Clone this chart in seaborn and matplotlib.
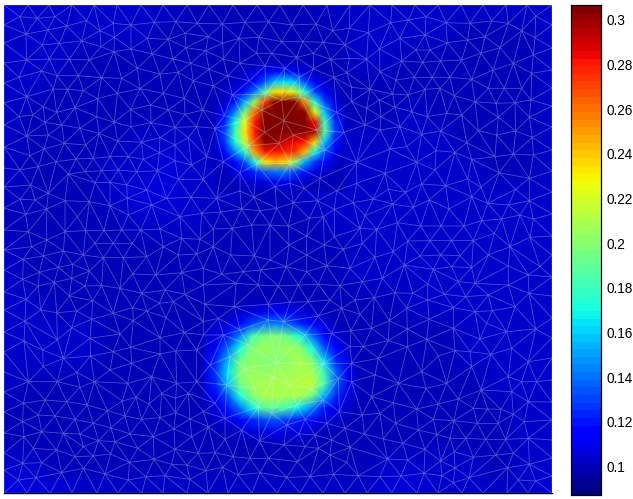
import numpy as np
import matplotlib
matplotlib.use("Agg")
import matplotlib.pyplot as plt
import matplotlib.tri as mtri
import seaborn as sns

# -----------------------------
# field values, in thousandths
# -----------------------------
background = [
    [105,104,103,103,102,102,102,101,101,100,100,101,102,102,102,102,102,103,103,104,104],
    [104,103,102,102,102,102,101,100,101,101,100,100,101,102,102,102,102,101,101,101,103],
    [103,102,102,101,101,101,100,100,101,101,100,100,101,102,102,101,101,100,99,100,102],
    [103,102,101,100,100,101,101,101,101,101,101,101,101,101,101,101,101,100,98,99,102],
    [103,101,100,99,100,101,101,101,101,101,101,101,101,101,101,102,101,100,98,100,102],
    [102,100,98,98,100,102,102,102,101,101,101,101,102,102,103,103,102,100,99,100,102],
    [102,101,100,100,102,104,105,103,102,101,101,102,103,103,104,104,103,102,101,101,103],
    [102,101,100,101,102,105,105,103,102,100,101,102,103,103,104,104,104,103,102,102,103],
    [101,99,99,100,101,102,103,102,100,100,100,100,102,103,104,104,104,103,102,103,104],
    [102,100,100,100,100,100,101,101,100,99,99,99,101,102,103,104,103,103,103,103,104],
    [103,101,101,101,100,100,101,100,99,98,99,99,100,102,103,103,103,103,103,103,104],
    [103,102,101,101,101,101,101,100,99,99,100,100,100,101,101,102,102,102,103,103,104],
    [103,102,102,102,101,100,99,99,101,101,101,101,101,100,99,100,101,102,103,103,104],
    [103,102,102,102,101,100,99,101,101,101,101,101,101,100,99,99,101,102,102,103,104],
    [102,101,101,101,101,100,100,101,101,101,101,101,101,101,100,100,101,101,102,103,104],
    [100,99,100,101,101,100,100,101,101,101,101,101,101,101,101,101,101,101,101,102,104],
    [101,100,100,101,101,100,100,100,101,101,101,101,101,101,101,101,101,101,101,102,104],
    [104,102,101,101,101,100,99,100,100,101,101,101,101,101,102,103,103,102,101,102,104],
    [109,106,105,104,104,103,102,102,104,104,103,102,103,104,105,105,104,103,103,104,106],
]

# top spot, 14 x 14 samples
spot_top = [
    [100,100,100,100,100,100,100,100,100,100,100,100,100,100],
    [100,100,100,102,105,110,118,120,110,105,101,100,100,100],
    [100,100,102,105,115,135,158,165,158,132,112,103,100,100],
    [100,102,106,120,145,185,232,238,218,172,132,110,102,100],
    [100,104,120,155,205,270,305,310,305,255,175,130,108,101],
    [102,112,145,195,260,305,310,310,310,300,225,158,118,103],
    [106,125,168,222,282,308,310,310,310,308,285,180,128,105],
    [108,132,178,232,280,308,310,310,310,308,295,190,132,106],
    [106,128,170,215,272,305,300,292,285,280,235,158,120,104],
    [102,116,145,175,250,280,280,278,275,245,172,135,110,102],
    [100,105,118,135,172,230,245,235,205,155,128,112,103,100],
    [100,101,105,112,125,135,142,142,132,120,108,102,100,100],
    [100,100,100,102,105,108,110,110,107,103,101,100,100,100],
    [100,100,100,100,100,100,100,100,100,100,100,100,100,100],
]

# bottom spot, 14 x 13 samples
spot_bottom = [
    [100,100,100,100,100,100,100,100,100,100,100,100,100,100],
    [100,100,101,103,107,110,112,110,107,103,101,100,100,100],
    [100,102,106,116,130,142,145,138,125,113,105,101,100,100],
    [102,108,120,145,180,197,200,193,172,140,118,106,101,100],
    [104,115,138,172,198,204,202,206,202,172,135,112,103,100],
    [107,122,155,192,202,198,198,202,208,198,162,124,106,100],
    [108,126,165,198,204,202,204,207,208,208,182,138,110,101],
    [107,122,157,195,206,208,208,210,213,217,184,138,110,101],
    [104,115,135,172,200,208,208,210,210,195,155,122,106,100],
    [101,106,120,140,168,188,188,180,165,143,120,109,102,100],
    [100,102,107,114,122,130,134,128,120,113,106,102,100,100],
    [100,100,101,103,105,108,110,108,105,103,101,100,100,100],
    [100,100,100,100,100,100,100,100,100,100,100,100,100,100],
]

cbar_ticks = [0.1, 0.12, 0.14, 0.16, 0.18, 0.2, 0.22, 0.24, 0.26, 0.28, 0.3]
cbar_labels = ["0.1", "0.12", "0.14", "0.16", "0.18", "0.2", "0.22", "0.24", "0.26", "0.28", "0.3"]
vmin, vmax = 0.0875, 0.3067

# -----------------------------
# mesh nodes, pixel positions on the picture
# -----------------------------
edge_top = [4,28,49,72,94,117,141,163,187,209,233,257,280,303,327,350,370,392,415,438,461,483,506,527,552]
edge_bottom = [4,27,50,72,97,118,142,163,187,208,228,252,277,300,323,345,367,392,417,438,462,483,507,528,552]
edge_left = [25,43,63,83,103,125,147,168,187,208,230,250,270,292,310,332,352,372,392,412,433,453,470]
edge_right = [25,48,70,88,106,127,150,171,192,214,236,255,277,296,318,338,358,380,402,420,440,458,476]

# (crop left, crop top, nodes in 3x crop coordinates)
crop_nw = (0, 0, [(60,50),(112,55),(165,50),(78,102),(143,90),(200,78),(260,62),(340,70),(393,75),(463,67),(527,65),(592,70),
    (127,135),(178,130),(245,123),(300,92),(343,112),(442,115),(505,118),(555,100),
    (80,180),(148,177),(208,178),(268,180),(303,140),(342,155),(393,147),(457,162),(519,177),(558,143),(572,190),
    (125,213),(171,227),(235,227),(305,233),(356,190),(412,205),(480,222),(535,217),(580,243),
    (57,232),(127,250),(160,267),(203,268),(250,272),(365,235),(420,266),(490,280),(553,295),
    (80,290),(133,285),(170,300),(225,323),(293,296),(352,280),(452,315),(392,328),(505,330),
    (130,320),(58,350),(98,345),(170,337),(135,367),(290,350),(343,367),(393,380),(453,368),(525,382),(555,343),
    (185,375),(240,385),(297,400),(353,423),(425,427),(480,413),(525,435),(565,413),
    (80,408),(145,405),(193,430),(257,435),(132,447)])
crop_n = (190, 0, [(22,70),(97,72),(165,67),(235,65),(305,75),(378,72),(428,92),(478,85),(535,98),(283,50),
    (55,110),(18,115),(98,130),(147,115),(207,112),(275,125),(338,125),(400,127),(465,135),(530,130),
    (47,152),(100,177),(150,190),(200,160),(245,160),(320,172),(370,160),(422,178),(478,175),(530,178),
    (57,208),(113,228),(178,242),(225,198),(285,205),(370,207),(328,232),(432,232),(470,218),(520,210),(485,262),
    (10,242),(70,258),(127,285),(235,228),(280,225),(400,252),(450,265),(540,268),
    (38,330),(103,347),(20,380),(75,385),(485,305),(530,325),(440,337),(525,375),(462,397),
    (228,282),(275,300),(330,290),(215,330),(282,362),(225,397),(165,362),(380,390),(268,430),(175,437),(340,315),
    (310,405),(430,410),(405,450),(500,487),(200,492),(300,490),(100,485),(50,470),(140,445),(15,460)])
crop_ne = (370, 0, [(22,45),(62,68),(17,72),(115,60),(168,50),(228,68),(300,70),(365,63),(415,70),(455,92),(497,48),
    (90,115),(165,105),(232,128),(293,120),(345,110),(388,98),(495,113),
    (28,147),(138,150),(180,150),(333,160),(390,143),(448,130),(490,165),
    (95,183),(158,187),(212,183),(275,180),(370,210),(430,190),(485,220),(530,210),
    (30,215),(78,240),(133,232),(187,232),(240,232),(305,238),(430,228),(500,240),
    (30,260),(68,282),(115,285),(165,268),(210,265),(253,287),(355,265),(403,265),(455,265),(510,265),
    (28,300),(75,322),(125,335),(197,300),(315,305),(378,310),(435,308),(483,300),
    (33,350),(90,380),(172,350),(230,340),(275,345),(385,352),(478,352),
    (30,390),(155,403),(212,393),(268,380),(325,392),(380,405),(437,393),(487,412),
    (110,440),(60,447),(150,440),(198,452),(255,457),(290,428),(375,470),(430,463),(490,465),(140,487),(305,478)])
crop_w = (0, 150, [(60,60),(90,17),(115,50),(168,35),(228,27),(280,25),(330,20),(385,20),(430,28),(478,8),(525,32),(575,45),(622,22),(720,68),
    (92,105),(145,130),(205,72),(255,65),(305,62),(355,60),(410,65),(472,62),(535,88),(610,88),(665,62),(720,123),(825,110),
    (60,148),(105,150),(195,152),(285,98),(330,97),(380,105),(440,120),(455,165),(500,145),(573,142),(650,145),(685,145),(762,142),
    (77,193),(140,177),(232,200),(268,155),(303,127),(382,145),(425,160),(330,167),(385,195),(478,190),(540,200),(605,190),(662,186),(725,177),(780,182),(830,175),
    (85,245),(140,270),(195,245),(257,242),(312,242),(365,240),(422,240),(480,237),(545,265),(600,268),(640,237),(697,235),(755,225),(810,225),
    (95,290),(190,303),(285,280),(340,280),(397,280),(490,290),(590,312),(640,290),(692,315),(763,318),(810,330),
    (70,328),(130,318),(250,315),(310,323),(370,323),(440,320),(535,315),(610,355),(665,373),(730,365),(782,360),
    (68,388),(118,367),(175,352),(218,343),(268,363),(215,385),(398,372),(467,375),(545,368),(610,405),(775,405),
    (115,408),(163,397),(255,408),(305,407),(360,415),(425,430),(495,420),(555,433),(615,463),(703,470),(805,463),(708,400),
    (78,448),(208,438),(278,452),(332,440),(478,460),(520,455),(655,505),(610,515),
    (122,480),(170,488),(230,483),(340,490),(398,473),(440,483),(498,503),(400,512),(275,508),
    (75,513),(133,512),(165,525),(215,533),(360,552),(553,548),(610,555),(670,555),
    (72,573),(172,570),(270,565),(480,563),(392,592),(527,603),(590,600),
    (128,600),(190,625),(272,618),(340,605),(480,612),(395,640),(330,660),(230,667),(130,650),(85,695),(172,695),(283,695),(383,700),(455,680),(530,700),(590,695),(630,645)])
crop_e = (275, 150, [(45,100),(88,115),(135,85),(185,122),(245,100),(242,38),(330,70),(425,37),(480,60),(527,40),(590,30),(660,20),(715,45),(763,85),
    (485,0),(545,5),
    (55,158),(128,152),(178,178),(235,158),(295,147),(340,118),(392,127),(440,102),(512,107),(578,87),(618,112),(672,68),(722,118),(800,115),
    (103,205),(145,200),(40,228),(270,197),(353,162),(415,172),(463,150),(522,177),(590,140),(638,160),(700,165),(763,152),
    (95,258),(178,260),(255,235),(305,238),(367,218),(437,228),(498,228),(567,228),(620,212),(680,207),(735,195),(775,207),
    (42,285),(148,285),(205,298),(262,280),(398,273),(465,272),(530,272),(595,272),(658,250),(738,228),(765,262),
    (95,315),(300,322),(355,305),(435,318),(497,315),(555,317),(640,315),(705,290),
    (33,350),(95,365),(155,347),(225,355),(283,340),(388,345),(475,358),(530,350),(590,353),(700,348),(795,350),(760,375),
    (10,408),(70,405),(130,403),(195,407),(262,395),(322,385),(458,402),(550,395),(600,400),(700,405),(790,385),
    (360,428),(413,430),(508,433),(572,440),(640,435),(762,430),
    (45,457),(100,455),(165,450),(240,450),(298,443),(458,450),(535,473),(600,485),(652,482),(720,470),
    (130,498),(200,475),(255,493),(343,512),(395,475),(462,508),(525,495),(635,520),(748,492),
    (170,550),(228,542),(290,535),(397,537),(535,535),(615,567),(695,545),(782,537),
    (225,590),(265,590),(340,572),(455,568),(397,590),(540,602),(585,605),(710,595),(770,560),
    (310,625),(230,640),(400,628),(490,618),(648,613),(760,635),(590,650),
    (300,675),(370,700),(440,665),(515,700),(600,680),(700,680)])
crop_spot = (190, 300, [(258,190),(250,230),(165,205),(175,135),(195,265),(295,195),(300,255),(345,105),(365,265),(400,190),(205,320),(320,315),
    (150,90),(235,60),(280,65),(120,170),(110,255),(80,255),(75,310),(130,18),(15,150),(30,60),(425,100),(445,235),(400,300)])
crop_sw = (0, 380, [(85,5),(175,3),(240,22),(312,30),(382,10),(438,25),(485,40),(528,8),(565,40),
    (70,70),(135,60),(200,65),(262,75),(322,92),(367,63),(408,52),(447,72),(495,75),(527,55),(568,78),
    (115,105),(165,108),(225,118),(280,130),(375,108),(425,118),(480,113),(527,98),(570,117),
    (68,125),(125,155),(190,160),(240,162),(333,143),(390,162),(522,147),(460,170),
    (72,170),(295,182),(345,185),(215,190),(575,170),
    (55,202),(100,205),(170,210),(250,200),(370,205),(413,205),(525,208),
    (225,230),(280,228),(332,222),(388,247),(462,238),
    (68,250),(125,248),(250,265),(515,253),(560,255),
    (185,278),(315,282),(108,293),(55,300),(250,300),(385,300),(438,290),(495,287),(570,298)])
crop_s = (180, 380, [(60,50),(105,75),(70,95),(135,115),(185,150),(85,140),(38,170),(135,178),(238,183),(312,195),(357,162),(405,165),(455,180),(495,145),(440,130),(478,95),(547,105),(553,162),
    (55,220),(105,218),(160,230),(210,235),(265,235),(375,200),(415,205),(510,202),(352,245),(450,225),(500,247),(537,238),
    (78,272),(128,262),(175,285),(240,278),(320,292),(390,290),(460,283),(535,287),(85,325),
    (375,118),(320,135),(225,70),(275,100),(420,80),(465,45),(515,5)])
crop_se = (365, 380, [(80,17),(127,38),(183,25),(238,30),(283,5),(348,30),(403,18),(440,35),(470,5),(515,5),
    (20,50),(85,68),(155,87),(220,72),(280,57),(325,85),(368,87),(408,88),(440,70),(490,65),
    (45,100),(92,130),(205,118),(267,122),(337,130),(400,130),(445,103),(478,125),(515,123),
    (160,150),(215,163),(255,175),(303,175),(362,178),(422,178),(490,175),
    (55,177),(113,190),(180,208),(230,203),(268,215),(445,220),(392,225),(325,232),
    (68,237),(128,240),(227,243),(270,263),(428,263),(493,253),
    (45,290),(108,288),(177,280),(230,287),(312,293),(410,305),(460,300),(512,303),(265,308)])
crops = [crop_nw, crop_n, crop_ne, crop_w, crop_e, crop_spot, crop_sw, crop_s, crop_se]


def collect_nodes():
    pts = [(x, 5) for x in edge_top] + [(x, 493) for x in edge_bottom]
    pts += [(4, y) for y in edge_left] + [(552, y) for y in edge_right]
    for x0, y0, nodes in crops:
        pts += [(x0 + zx / 3, y0 + zy / 3) for zx, zy in nodes if 12 < y0 + zy / 3 < 484 and 12 < x0 + zx / 3 < 544]
    # crops overlap, drop the nodes read twice
    kept = []
    for p in pts:
        if all((p[0] - q[0]) ** 2 + (p[1] - q[1]) ** 2 > 13 ** 2 for q in kept):
            kept.append(p)
    return np.array(kept)


def px_axes(fig, left, top, right, bottom):
    w, h = fig.get_size_inches() * fig.dpi
    return fig.add_axes([left / w, 1 - bottom / h, (right - left) / w, (bottom - top) / h])


def draw_field(ax, values, **kws):
    data = np.array(values) / 1000
    sns.heatmap(data, ax=ax, cmap=jet, vmin=vmin, vmax=vmax, xticklabels=False, yticklabels=False,
                shading="gouraud", **kws)
    ax.set_xlim(0, data.shape[1] - 1)
    ax.set_ylim(data.shape[0] - 1, 0)


sns.set_theme(style="white")
plt.rcParams["font.family"] = ["Liberation Sans", "DejaVu Sans"]
jet = plt.get_cmap("jet", 64)

fig = plt.figure(figsize=(6.33, 4.99), dpi=100)
ax_main = px_axes(fig, 4, 5, 552, 493)
ax_cbar = px_axes(fig, 570.5, 5, 600.5, 494.5)
draw_field(ax_main, background, cbar_ax=ax_cbar)

draw_field(px_axes(fig, 215, 62, 345, 192), spot_top, cbar=False)
draw_field(px_axes(fig, 204, 300, 360, 444), spot_bottom, cbar=False)

# white mesh on top
ax_mesh = px_axes(fig, 4, 5, 552, 493)
ax_mesh.patch.set_alpha(0)
nodes = collect_nodes()
ax_mesh.triplot(mtri.Triangulation(nodes[:, 0], nodes[:, 1]), color="white", lw=0.6, alpha=0.3)
ax_mesh.set_xlim(4, 552)
ax_mesh.set_ylim(493, 5)
ax_mesh.set_xticks([])
ax_mesh.set_yticks([])
for side in ["top", "left", "right"]:
    ax_mesh.spines[side].set_visible(False)
ax_mesh.spines["bottom"].set_visible(True)
ax_mesh.spines["bottom"].set_color("black")
ax_mesh.spines["bottom"].set_linewidth(1.0)

ax_cbar.yaxis.set_ticks(cbar_ticks, labels=cbar_labels)
ax_cbar.tick_params(axis="y", direction="in", left=True, right=True, length=3, width=0.7,
                    color="black", labelsize=9.8, labelcolor="black", pad=4)
for spine in ax_cbar.spines.values():
    spine.set_visible(True)
    spine.set_color("black")
    spine.set_linewidth(0.8)

fig.savefig("out.png", dpi=100)
